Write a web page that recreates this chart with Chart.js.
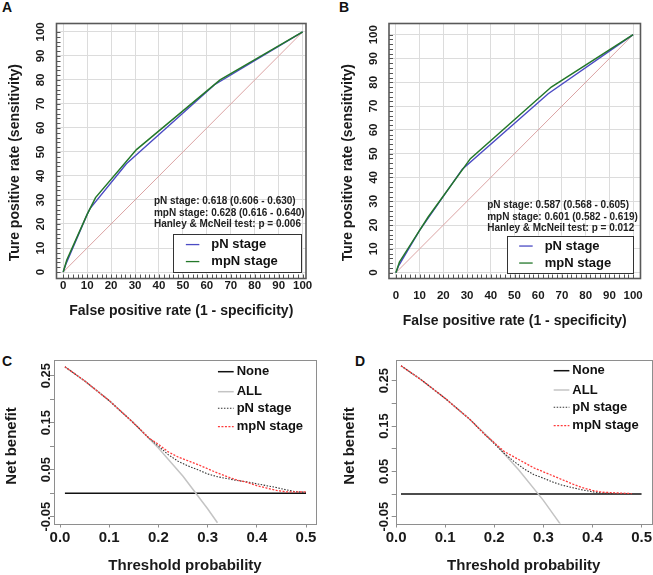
<!DOCTYPE html>
<html>
<head>
<meta charset="utf-8">
<script src="https://cdn.jsdelivr.net/npm/chart.js@4.4.1/dist/chart.umd.min.js"></script>
<style>
  body { margin: 0; background: #fff; width: 653px; height: 575px; position: relative; overflow: hidden; }
  canvas { position: absolute; }
  .tag { position: absolute; font: bold 14px "Liberation Sans", Arial, sans-serif; color: #111; }
</style>
</head>
<body>
<div class="tag" style="left:2px;top:-1px">A</div>
<div class="tag" style="left:339px;top:-1px">B</div>
<div class="tag" style="left:2px;top:353px">C</div>
<div class="tag" style="left:355px;top:353px">D</div>
<canvas id="rocA" width="323" height="330" style="left:0;top:0"></canvas>
<canvas id="rocB" width="330" height="330" style="left:323px;top:0"></canvas>
<canvas id="dcaC" width="323" height="245" style="left:0;top:330px"></canvas>
<canvas id="dcaD" width="330" height="245" style="left:323px;top:330px"></canvas>
<script>
const FONT = '"Liberation Sans", Arial, sans-serif';

// ---- ROC data (percent) ----
const rocTicks = [0, 10, 20, 30, 40, 50, 60, 70, 80, 90, 100];
const diagRef = [0, 100];

const fprA_pN = [0, 1.2, 10, 11.2, 26.4, 63.2, 100];
const tprA_pN = [0, 3.5, 24, 26.4, 45.1, 78, 100];
const fprA_mpN = [0, 1.5, 10, 13.5, 30.6, 65.5, 100];
const tprA_mpN = [0, 5, 24, 31, 51, 80, 100];

const fprB_pN = [0, 1.2, 10, 28, 64.2, 100];
const tprB_pN = [0, 3, 17.8, 43.5, 75.2, 100];
const fprB_mpN = [0, 1.5, 10, 13.6, 31.4, 65.5, 100];
const tprB_mpN = [0, 4.5, 17.8, 23.4, 47.9, 78, 100];

const aucA = ['pN stage: 0.618 (0.606 - 0.630)', 'mpN stage: 0.628 (0.616 - 0.640)', 'Hanley & McNeil test: p = 0.006'];
const aucB = ['pN stage: 0.587 (0.568 - 0.605)', 'mpN stage: 0.601 (0.582 - 0.619)', 'Hanley & McNeil test: p = 0.012'];

// ---- decision curve data ----
const dcaTicksX = [0, 0.1, 0.2, 0.3, 0.4, 0.5];
const dcaTicksY = [-0.05, 0, 0.05, 0.1, 0.15, 0.2, 0.25];
const noneX = [0.01, 0.5];
const noneY = [0, 0];

const allX_C = [0.01, 0.05, 0.1, 0.15, 0.2, 0.25, 0.3, 0.32];
const allY_C = [0.269, 0.239, 0.197, 0.149, 0.096, 0.036, -0.033, -0.063];
const allX_D = [0.01, 0.05, 0.1, 0.15, 0.2, 0.25, 0.3, 0.335];
const allY_D = [0.283, 0.253, 0.211, 0.165, 0.113, 0.053, -0.014, -0.067];

const thresh = [0.01, 0.05, 0.1, 0.15, 0.18, 0.2, 0.22, 0.24, 0.26, 0.28, 0.3, 0.32, 0.34, 0.36, 0.38, 0.4, 0.42, 0.44, 0.46, 0.48, 0.5];
const nbPN_C  = [0.269, 0.239, 0.197, 0.149, 0.118, 0.100, 0.082, 0.068, 0.058, 0.050, 0.041, 0.035, 0.031, 0.027, 0.024, 0.020, 0.016, 0.012, 0.007, 0.003, 0.002];
const nbMPN_C = [0.269, 0.239, 0.197, 0.149, 0.118, 0.104, 0.088, 0.077, 0.069, 0.061, 0.052, 0.043, 0.035, 0.028, 0.023, 0.016, 0.011, 0.006, 0.003, 0.003, 0.003];
const nbPN_D  = [0.283, 0.253, 0.211, 0.165, 0.132, 0.111, 0.090, 0.072, 0.056, 0.043, 0.035, 0.026, 0.019, 0.014, 0.009, 0.005, 0.002, 0.001, null, null, null];
const nbMPN_D = [0.283, 0.253, 0.211, 0.165, 0.132, 0.113, 0.094, 0.082, 0.070, 0.058, 0.049, 0.040, 0.031, 0.022, 0.014, 0.008, 0.004, 0.003, 0.002, 0.001, null];

const pts = (xs, ys) => xs.map((v, i) => ({ x: v, y: ys[i] }));
const bold = size => ({ family: FONT, size: size, weight: 'bold' });

Chart.defaults.animation = false;
Chart.defaults.responsive = false;
Chart.defaults.plugins.legend.display = false;
Chart.defaults.plugins.tooltip.enabled = false;
Chart.defaults.elements.point.radius = 0;

// frame, inner minor ticks, AUC note and legend box of the ROC panels
const rocDecor = {
  id: 'rocDecor',
  afterDatasetsDraw(chart, args, o) {
    const { ctx, chartArea: a, scales: { x, y } } = chart;
    ctx.save();
    ctx.strokeStyle = '#555';
    ctx.lineWidth = 1;
    ctx.beginPath();
    for (let v = 0; v <= 100; v += 2) {
      const px = Math.round(x.getPixelForValue(v)) + 0.5;
      ctx.moveTo(px, a.bottom);
      ctx.lineTo(px, a.bottom - 4);
      const py = Math.round(y.getPixelForValue(v)) + 0.5;
      ctx.moveTo(a.left, py);
      ctx.lineTo(a.left + 4, py);
    }
    ctx.stroke();
    ctx.lineWidth = 1.6;
    ctx.strokeStyle = '#595959';
    ctx.strokeRect(a.left, a.top, a.width, a.height);

    ctx.fillStyle = '#222';
    ctx.font = 'bold 10px ' + FONT;
    ctx.textAlign = 'left';
    ctx.textBaseline = 'middle';
    const nx = x.getPixelForValue(o.noteX), ny = y.getPixelForValue(o.noteY);
    o.lines.forEach((t, i) => ctx.fillText(t, nx, ny + i * 11.3));

    const bl = x.getPixelForValue(o.boxX[0]), br = x.getPixelForValue(o.boxX[1]);
    const bt = y.getPixelForValue(o.boxY[1]), bb = y.getPixelForValue(o.boxY[0]);
    ctx.fillStyle = '#fff';
    ctx.fillRect(bl, bt, br - bl, bb - bt);
    ctx.strokeStyle = '#333';
    ctx.lineWidth = 1;
    ctx.strokeRect(Math.round(bl) + 0.5, Math.round(bt) + 0.5, Math.round(br - bl), Math.round(bb - bt));
    ctx.font = 'bold 13px ' + FONT;
    const items = chart.data.datasets.filter(d => d.label).reverse();
    items.forEach((d, i) => {
      const ry = bt + 10.5 + i * 17;
      ctx.strokeStyle = d.borderColor;
      ctx.lineWidth = 1.3;
      ctx.beginPath();
      ctx.moveTo(bl + 12.5, ry);
      ctx.lineTo(bl + 26, ry);
      ctx.stroke();
      ctx.fillStyle = '#111';
      ctx.fillText(d.label, bl + 38, ry);
    });
    ctx.restore();
  }
};

function rocChart(id, g, pnX, pnY, mpnX, mpnY, note) {
  return new Chart(document.getElementById(id), {
    type: 'line',
    data: {
      datasets: [
        { label: 'mpN stage', data: pts(mpnX, mpnY), borderColor: '#24782a', borderWidth: 1.5 },
        { label: 'pN stage', data: pts(pnX, pnY), borderColor: '#4b4bc4', borderWidth: 1.4 },
        { label: '', data: pts(diagRef, diagRef), borderColor: '#dba3a3', borderWidth: 1 }
      ]
    },
    options: {
      layout: { padding: { top: g.top, right: g.right, left: 0, bottom: 0 } },
      scales: {
        x: {
          type: 'linear', min: g.xMin, max: g.xMax,
          afterBuildTicks: s => { s.ticks = rocTicks.map(v => ({ value: v })); },
          afterFit: s => { s.height = g.xH; },
          grid: { color: '#dcdcdc', drawTicks: false },
          border: { display: false },
          ticks: { color: '#1a1a1a', font: bold(11.5), padding: g.xPad, autoSkip: false, maxRotation: 0 },
          title: { display: true, text: 'False positive rate (1 - specificity)', color: '#1a1a1a', font: bold(14), padding: { top: 0, bottom: g.xtPad } }
        },
        y: {
          type: 'linear', min: g.yMin, max: g.yMax,
          afterBuildTicks: s => { s.ticks = rocTicks.map(v => ({ value: v })); },
          afterFit: s => { s.width = g.yW; },
          grid: { color: '#dcdcdc', drawTicks: false },
          border: { display: false },
          ticks: { color: '#1a1a1a', font: bold(11.5), padding: g.yPad, autoSkip: false, minRotation: 90, maxRotation: 90, crossAlign: 'center' },
          title: { display: true, text: 'Ture positive rate (sensitivity)      ', color: '#1a1a1a', font: bold(14), padding: { top: g.ytPad, bottom: 0 } }
        }
      },
      plugins: { rocDecor: note }
    },
    plugins: [rocDecor]
  });
}

rocChart('rocA',
  { top: 23.5, right: 17, xH: 51.5, yW: 56.5, xMin: -2.8, xMax: 101.4, yMin: -2.7, yMax: 103.5, xPad: 0.5, xtPad: 10, yPad: 6.5, ytPad: 6.6 },
  fprA_pN, tprA_pN, fprA_mpN, tprA_mpN,
  { noteX: 37.9, noteY: 29.3, lines: aucA, boxX: [46, 99.6], boxY: [0, 15.8] });

rocChart('rocB',
  { top: 23.5, right: 9.5, xH: 51.5, yW: 66, xMin: -2.9, xMax: 103.1, yMin: -2.45, yMax: 104.7, xPad: 10, xtPad: 0, yPad: 5.6, ytPad: 16.6 },
  fprB_pN, tprB_pN, fprB_mpN, tprB_mpN,
  { noteX: 38.5, noteY: 28.2, lines: aucB, boxX: [46.7, 100], boxY: [-0.1, 15.6] });

// frame and legend of the decision curve panels
const dcaDecor = {
  id: 'dcaDecor',
  afterDatasetsDraw(chart, args, o) {
    const { ctx, chartArea: a, scales: { x } } = chart;
    ctx.save();
    ctx.strokeStyle = '#8e8e8e';
    ctx.lineWidth = 1;
    ctx.strokeRect(Math.round(a.left) + 0.5, Math.round(a.top) + 0.5, Math.round(a.width), Math.round(a.height));
    ctx.font = 'bold 13px ' + FONT;
    ctx.textAlign = 'left';
    ctx.textBaseline = 'middle';
    const l0 = x.getPixelForValue(o.lineX[0]), l1 = x.getPixelForValue(o.lineX[1]), tx = x.getPixelForValue(o.textX);
    const items = chart.data.datasets.slice().reverse();
    items.forEach((d, i) => {
      const ry = a.top + o.rows[i];
      ctx.strokeStyle = d.borderColor;
      ctx.lineWidth = d.borderWidth;
      ctx.setLineDash(d.borderDash || []);
      ctx.beginPath();
      ctx.moveTo(l0, ry);
      ctx.lineTo(l1, ry);
      ctx.stroke();
      ctx.setLineDash([]);
      ctx.fillStyle = '#111';
      ctx.fillText(d.label, tx, ry);
    });
    ctx.restore();
  }
};

function dcaChart(id, g, allX, allY, nbPN, nbMPN) {
  return new Chart(document.getElementById(id), {
    type: 'line',
    data: {
      datasets: [
        { label: 'mpN stage', data: pts(thresh, nbMPN), borderColor: '#ff3b3b', borderWidth: 1.3, borderDash: [2, 1.5] },
        { label: 'pN stage', data: pts(thresh, nbPN), borderColor: '#333333', borderWidth: 1.1, borderDash: [1.5, 1.5] },
        { label: 'ALL', data: pts(allX, allY), borderColor: '#c4c4c4', borderWidth: 1.5, clip: 0 },
        { label: 'None', data: pts(noneX, noneY), borderColor: '#111111', borderWidth: 1.5 }
      ]
    },
    options: {
      layout: { padding: { top: g.top, right: g.right, left: 0, bottom: 0 } },
      scales: {
        x: {
          type: 'linear', min: g.xMin, max: g.xMax,
          afterBuildTicks: s => { s.ticks = dcaTicksX.map(v => ({ value: v })); },
          afterFit: s => { s.height = g.xH; },
          grid: { drawOnChartArea: false, drawTicks: true, tickLength: 4, color: '#8e8e8e' },
          border: { display: false },
          ticks: { color: '#1a1a1a', font: bold(15), padding: 1, autoSkip: false, maxRotation: 0, callback: v => v.toFixed(1) },
          title: { display: true, text: 'Threshold probability', color: '#1a1a1a', font: bold(15), padding: { top: 0, bottom: 0 } }
        },
        y: {
          type: 'linear', min: g.yMin, max: g.yMax,
          afterBuildTicks: s => { s.ticks = dcaTicksY.map(v => ({ value: v })); },
          afterFit: s => { s.width = g.yW; },
          grid: { drawOnChartArea: false, drawTicks: true, tickLength: 4, color: '#8e8e8e' },
          border: { display: false },
          ticks: {
            color: '#1a1a1a', font: bold(13), padding: g.yPad, autoSkip: false, minRotation: 90, maxRotation: 90, crossAlign: 'center',
            callback: v => (Math.round(v * 100) % 10 === 0 ? '' : v.toFixed(2))
          },
          title: { display: true, text: 'Net benefit  ', color: '#1a1a1a', font: bold(15), padding: { top: g.ytPad, bottom: 0 } }
        }
      },
      plugins: { dcaDecor: { lineX: [0.321, 0.353], textX: 0.359, rows: g.rows } }
    },
    plugins: [dcaDecor]
  });
}

dcaChart('dcaC',
  { top: 30, right: 7, xH: 51.5, yW: 54, xMin: -0.0122, xMax: 0.5203, yMin: -0.0645, yMax: 0.2834, yPad: -11, ytPad: 3, rows: [11.7, 31.7, 48.3, 66.7] },
  allX_C, allY_C, nbPN_C, nbMPN_C);

dcaChart('dcaD',
  { top: 30, right: 0.5, xH: 51.5, yW: 72.7, xMin: -0.0008, xMax: 0.521, yMin: -0.065, yMax: 0.2957, yPad: -8, ytPad: 18, rows: [10.7, 30, 47.3, 65.7] },
  allX_D, allY_D, nbPN_D, nbMPN_D);
</script>
</body>
</html>
